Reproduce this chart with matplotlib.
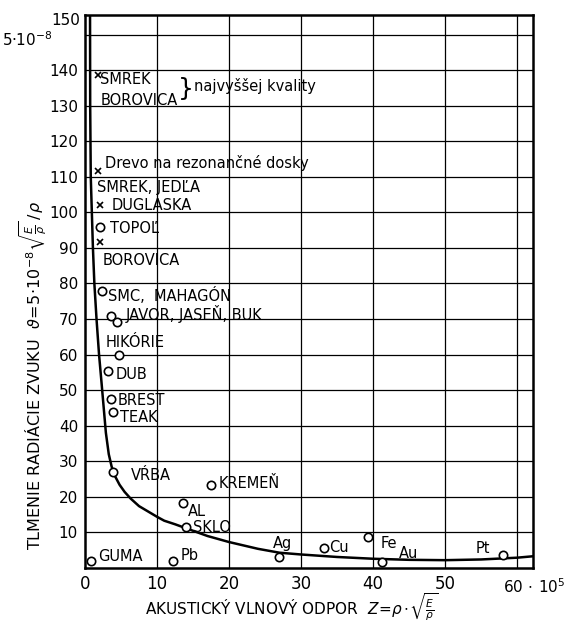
import matplotlib
matplotlib.use("Agg")
import matplotlib.pyplot as plt
from matplotlib.transforms import blended_transform_factory

plt.rcParams['font.family'] = ['DejaVu Sans']
plt.rcParams['mathtext.fontset'] = 'dejavusans'

# hand-drawn curve
curve_x = [0.7, 0.72, 0.8, 0.95, 1.1, 1.3, 1.6, 1.95, 2.3, 2.6, 2.9, 3.3, 3.7, 4.2, 4.8, 5.5, 6.3,
           7.5, 9.0, 10.0, 11.0, 12.5, 14.0, 17.0, 20.0, 24.0, 27.0, 30.0, 35.0, 40.0, 45.0,
           50.0, 55.0, 60.0, 62.2]
curve_y = [155, 130, 110, 100, 90, 80, 70, 60, 52, 45, 38, 32, 28.5, 25.7, 23.4, 21.4, 19.6,
           17.4, 15.6, 14.4, 13.3, 12.3, 11.2, 9.0, 7.3, 5.4, 4.3, 3.8, 3.1, 2.6, 2.3,
           2.2, 2.4, 2.9, 3.3]

# circle markers
circ_x = [2.1, 2.3, 3.6, 4.5, 4.7, 3.2, 3.6, 3.9, 3.9, 17.5, 13.6, 14.0, 0.8, 12.2, 27.0, 33.2, 39.3, 41.3, 58.0]
circ_y = [95.8, 78.0, 70.8, 69.2, 60.0, 55.5, 47.5, 43.8, 27.0, 23.2, 18.3, 11.5, 2.0, 2.0, 3.1, 5.6, 8.7, 1.7, 3.7]

# cross markers
cross_x = [1.8, 1.8, 2.1, 2.1]
cross_y = [138.6, 111.5, 102.0, 91.8]

# text labels
lab_text = ["SMREK", "BOROVICA", "najvyššej kvality", "Drevo na rezonančné dosky",
            "SMREK, JEDĽA", "DUGLASKA", "TOPOĽ", "BOROVICA", "SMC,  MAHAGÓN",
            "JAVOR, JASEŇ, BUK", "HIKÓRIE", "DUB", "BREST", "TEAK", "VŔBA", "KREMEŇ",
            "AL", "SKLO", "GUMA", "Pb", "Ag", "Cu", "Fe", "Au", "Pt"]
lab_x = [2.1, 2.1, 15.2, 2.8, 1.6, 3.7, 3.5, 2.5, 3.2, 5.6, 2.8, 4.2, 4.5, 4.9, 6.4, 18.6,
         14.3, 15.0, 1.8, 13.3, 26.1, 33.9, 41.0, 43.6, 54.2]
lab_y = [137.5, 131.5, 135.5, 114.0, 107.0, 102.0, 95.5, 86.6, 76.6, 71.4, 63.4, 54.5, 47.2,
         42.3, 26.0, 23.7, 15.8, 11.5, 3.1, 3.4, 7.0, 5.9, 7.0, 4.2, 5.6]

x_ticks = [0, 10, 20, 30, 40, 50]
y_ticks = [10, 20, 30, 40, 50, 60, 70, 80, 90, 100, 110, 120, 130, 140]
y_top_label = "150"

fig = plt.figure(figsize=(5.66, 6.25), dpi=100)
ax = fig.add_axes([85/566, 1-568/625, (533-85)/566, (568-15)/625])
ax.set_xlim(0, 62.2)
ax.set_ylim(0, 155.5)

for v in y_ticks + [150]:
    ax.axhline(v, color='black', lw=0.9, zorder=1)
for v in x_ticks[1:] + [60]:
    ax.axvline(v, color='black', lw=0.9, zorder=1)

ax.plot(curve_x, curve_y, color='black', lw=1.8, zorder=3)
ax.plot(circ_x, circ_y, 'o', mfc='white', mec='black', ms=6, mew=1.2, zorder=4, ls='none')
ax.plot(cross_x, cross_y, 'x', color='black', ms=5, mew=1.2, zorder=4, ls='none')

for t, x, y in zip(lab_text, lab_x, lab_y):
    ax.text(x, y, t, fontsize=10.5, ha='left', va='center', zorder=5)

ax.text(12.9, 134.8, "}", fontsize=18, ha='left', va='center', zorder=5)

for s in ax.spines.values():
    s.set_linewidth(1.8)

ax.set_xticks(x_ticks)
ax.set_xticklabels([str(v) for v in x_ticks], fontsize=12)
ax.set_yticks(y_ticks)
ax.set_yticklabels([str(v) for v in y_ticks], fontsize=11)
ax.tick_params(length=0, pad=5)
ax.tick_params(axis='x', pad=5)

trx = blended_transform_factory(ax.transData, ax.transAxes)
ax.text(58.0, -0.0175, "60$\\,\\cdot\\,$10$^5$", transform=trx, fontsize=11, ha='left', va='top')
try_y = blended_transform_factory(ax.transAxes, ax.transData)
ax.text(-0.011, 154.0, y_top_label, transform=try_y, fontsize=11, ha='right', va='center')

fig.text(27/566, 1-40/625, "5·10$^{-8}$", fontsize=11, ha='center', va='center')
fig.text(33/566, 1-375/625,
         "TLMENIE RADIÁCIE ZVUKU  $\\vartheta\\!=\\!5\\!\\cdot\\!10^{-8}\\sqrt{\\frac{E}{\\rho}}\\,/\\,\\rho$",
         fontsize=11.5, rotation=90, ha='center', va='center')
fig.text(292/566, 1-607/625,
         "AKUSTICKÝ VLNOVÝ ODPOR  $Z\\!=\\!\\rho\\cdot\\!\\sqrt{\\frac{E}{\\rho}}$",
         fontsize=11, ha='center', va='center')

fig.savefig("out.png", dpi=100, facecolor='white')
